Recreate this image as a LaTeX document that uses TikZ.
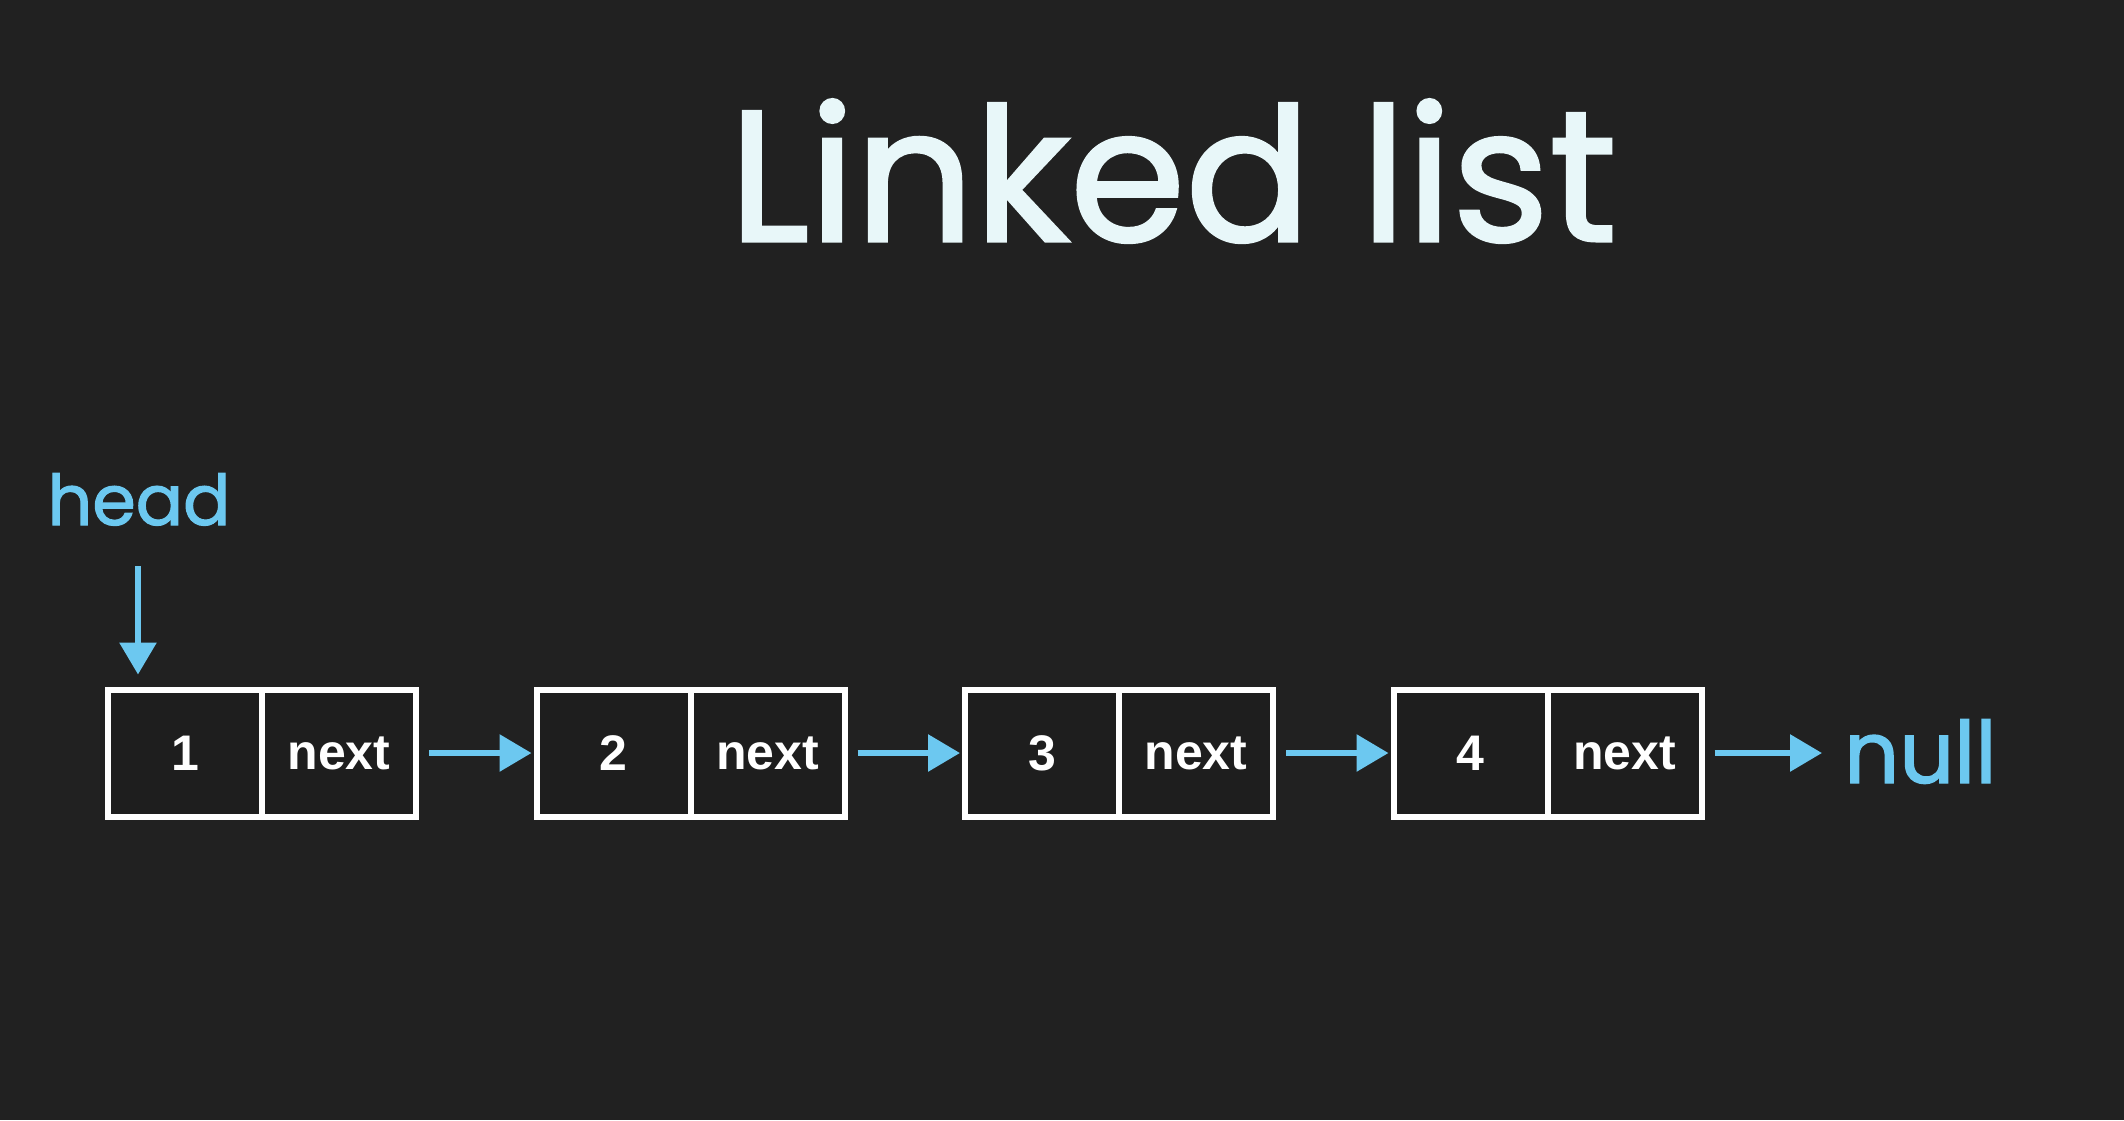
\documentclass[tikz,border=0pt]{standalone}
\usepackage{fontspec}
\setmainfont{Liberation Sans}
\newfontfamily\handfont[FakeBold=1.6]{Poppins}
\usetikzlibrary{arrows.meta}
\definecolor{bg}{HTML}{212121}
\definecolor{cellfill}{HTML}{1E1E1E}
\definecolor{sky}{HTML}{6CC8F0}
\definecolor{chalk}{HTML}{E8F7F9}
\tikzset{
  cell/.style={draw=white, line width=6pt, fill=cellfill, minimum width=154pt,
    minimum height=127pt, inner sep=0pt, text=white,
    font=\fontsize{50}{50}\selectfont\bfseries},
  link/.style={draw=sky, line width=6pt,
    -{Triangle[length=32pt,width=36pt]}},
  hand/.style={text=sky, inner sep=0pt}
}
\begin{document}
\begin{tikzpicture}[x=1pt,y=-1pt]
  \fill[bg] (0,0) rectangle (2124,1120);
  \useasboundingbox (0,0) rectangle (2124,1120);

  % title
  \node[text=chalk, anchor=base, inner sep=0pt,
        font=\handfont\fontsize{186}{186}\selectfont] (title) at (1173,241) {Linked list};

  % list cells: value and next pointer
  \foreach \i/\v in {1/1,2/2,3/3,4/4}{
    \pgfmathsetmacro{\left}{108+428.5*(\i-1)}
    \node[cell] (v\i) at (\left+77,753) {\v};
    \node[cell] (n\i) at (\left+231,753) {next};
  }

  % head label and pointer
  \node[hand, anchor=base, font=\handfont\fontsize{70}{70}\selectfont] (head) at (139,525) {head};
  \coordinate (headtail) at (138,566);
  \draw[link, shorten >=12pt] (headtail) -- (headtail |- v1.north);

  % links between nodes
  \draw[link, shorten <=10pt, shorten >=2pt] (n1.east) -- (v2.west);
  \draw[link, shorten <=10pt, shorten >=2pt] (n2.east) -- (v3.west);
  \draw[link, shorten <=10pt, shorten >=2pt] (n3.east) -- (v4.west);

  % null terminator
  \node[hand, anchor=base west, font=\handfont\fontsize{86}{86}\selectfont] (null) at (1844,783) {null};
  \draw[link, shorten <=10pt, shorten >=22pt] (n4.east) -- (n4.east -| null.west);
\end{tikzpicture}
\end{document}
